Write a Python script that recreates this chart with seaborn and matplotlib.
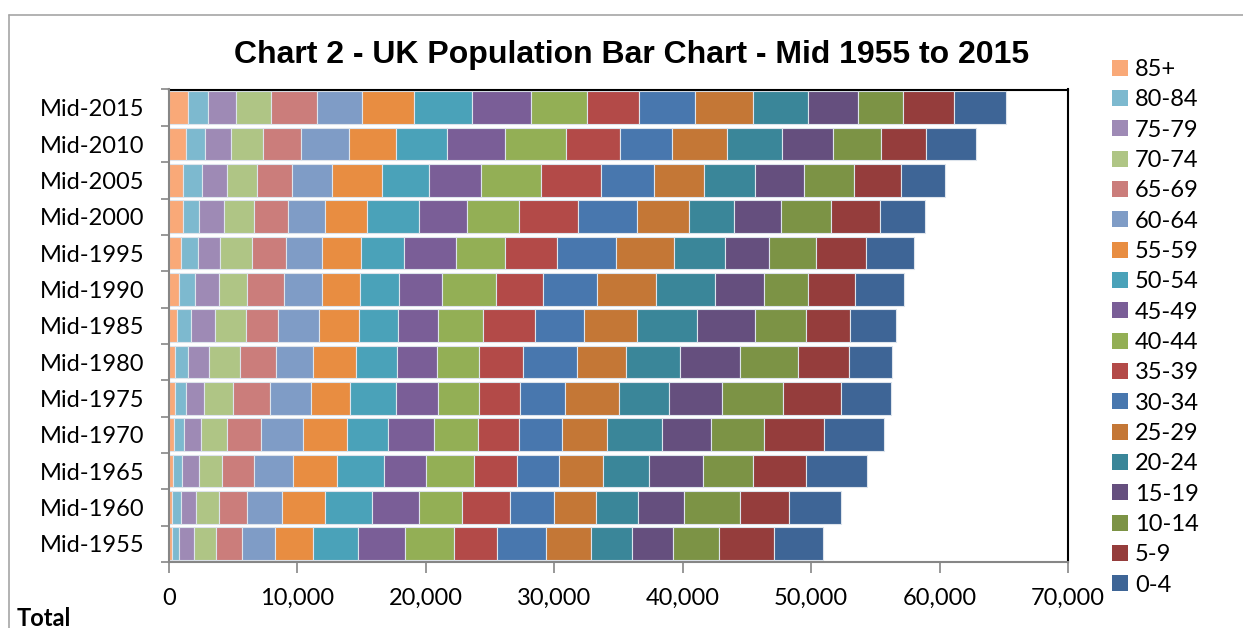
import matplotlib
matplotlib.use("Agg")
import matplotlib.pyplot as plt
from matplotlib.lines import Line2D
from matplotlib.patches import Patch
from matplotlib.ticker import FixedLocator, FuncFormatter
import numpy as np
import pandas as pd
import seaborn as sns

# categories (top bar first) and age bands (left segment first)
years = ['Mid-2015', 'Mid-2010', 'Mid-2005', 'Mid-2000', 'Mid-1995', 'Mid-1990', 'Mid-1985',
         'Mid-1980', 'Mid-1975', 'Mid-1970', 'Mid-1965', 'Mid-1960', 'Mid-1955']
age_groups = ['85+', '80-84', '75-79', '70-74', '65-69', '60-64', '55-59', '50-54', '45-49',
              '40-44', '35-39', '30-34', '25-29', '20-24', '15-19', '10-14', '5-9', '0-4']
age_colors = ['#F9A978', '#7DB9CF', '#9E8AB5', '#AFC585', '#CB7D7B', '#7F9CC6',
              '#E88D41', '#4AA2B9', '#7A5E97', '#93AF55', '#B34A48', '#4877AE',
              '#C47736', '#3A8699', '#654F7E', '#7C9345', '#953D3C', '#3E6596']

# population (thousands) per age band, same order as age_groups
mid_2015 = [1480, 1590, 2130, 2780, 3550, 3510, 4000, 4550, 4600, 4360, 4070, 4370, 4470, 4290, 3860, 3540, 3940, 4050]
mid_2010 = [1300, 1510, 2000, 2490, 2940, 3740, 3660, 3980, 4560, 4730, 4230, 4060, 4280, 4240, 4020, 3690, 3480, 3900]
mid_2005 = [1090, 1480, 1930, 2360, 2700, 3120, 3920, 3660, 4030, 4670, 4640, 4190, 3880, 3920, 3870, 3890, 3610, 3430]
mid_2000 = [1070, 1240, 1950, 2390, 2580, 2930, 3250, 4050, 3740, 4060, 4610, 4600, 4050, 3510, 3640, 3870, 3790, 3560]
mid_1995 = [940, 1350, 1680, 2530, 2620, 2800, 3040, 3350, 4050, 3780, 4090, 4580, 4540, 3980, 3420, 3640, 3850, 3790]
mid_1990 = [780, 1280, 1840, 2210, 2850, 2920, 2960, 3080, 3350, 4160, 3710, 4160, 4650, 4550, 3860, 3430, 3620, 3840]
mid_1985 = [620, 1130, 1810, 2420, 2540, 3170, 3090, 3060, 3120, 3460, 4100, 3790, 4130, 4700, 4520, 3930, 3400, 3580]
mid_1980 = [500, 980, 1610, 2440, 2810, 2860, 3370, 3200, 3110, 3250, 3450, 4210, 3820, 4190, 4670, 4540, 3900, 3410]
mid_1975 = [500, 820, 1410, 2290, 2830, 3190, 3040, 3560, 3270, 3200, 3240, 3510, 4210, 3890, 4130, 4680, 4520, 3950]
mid_1970 = [370, 830, 1320, 1980, 2670, 3250, 3430, 3170, 3630, 3380, 3240, 3310, 3550, 4240, 3840, 4130, 4700, 4600]
mid_1965 = [310, 730, 1300, 1820, 2420, 3040, 3500, 3590, 3290, 3720, 3400, 3270, 3430, 3580, 4210, 3850, 4130, 4780]
mid_1960 = [260, 710, 1170, 1730, 2210, 2730, 3320, 3640, 3690, 3350, 3740, 3430, 3270, 3300, 3580, 4320, 3790, 4120]
mid_1955 = [210, 600, 1140, 1690, 2080, 2520, 2960, 3480, 3710, 3790, 3380, 3790, 3490, 3190, 3240, 3560, 4270, 3860]

sns.set_style('white')
plt.rcParams['font.family'] = ['Lato', 'DejaVu Sans']
plt.rcParams['text.color'] = 'black'

df = pd.DataFrame([mid_2015, mid_2010, mid_2005, mid_2000, mid_1995, mid_1990, mid_1985,
                   mid_1980, mid_1975, mid_1970, mid_1965, mid_1960, mid_1955],
                  index=years, columns=age_groups)
offsets = df.cumsum(axis=1) - df

W, H = 1243, 628
fig = plt.figure(figsize=(W / 100, H / 100), dpi=100)
ax = fig.add_axes([169 / W, 1 - 562 / H, (1068 - 169) / W, (562 - 89.5) / H])

# stacked segments, one seaborn call per age band
for age, colour in zip(age_groups, age_colors):
    sns.barplot(x=df[age].values, y=years, left=offsets[age].values, orient='y',
                color=colour, saturation=1, width=0.9, edgecolor='#dde4ec',
                linewidth=0.8, ax=ax)

ax.set_xlim(0, 70000)
ax.set_ylim(12.5, -0.5)
ax.set_xlabel('')
ax.set_ylabel('')
ax.set_xticks(np.arange(0, 70001, 10000))
ax.xaxis.set_major_formatter(FuncFormatter(lambda v, p: f'{int(v):,}'))
ax.yaxis.set_minor_locator(FixedLocator(np.arange(-0.5, 13, 1)))

grey = '#868686'
ax.tick_params(axis='x', which='major', bottom=True, length=8, width=1.2, color=grey,
               labelcolor='black', labelsize=17, pad=10.5)
ax.tick_params(axis='y', which='major', left=True, length=0, labelcolor='black',
               labelsize=17, pad=18)
ax.tick_params(axis='y', which='minor', left=True, length=6, width=1.2, color=grey)

for side in ['top', 'right']:
    ax.spines[side].set_color('black')
    ax.spines[side].set_linewidth(1.5)
for side in ['left', 'bottom']:
    ax.spines[side].set_color(grey)
    ax.spines[side].set_linewidth(1.5)
    ax.spines[side].set_zorder(5)

fig.text(632 / W, 1 - 55 / H, 'Chart 2 - UK Population Bar Chart - Mid 1955 to 2015',
         ha='center', va='center', fontsize=23, fontweight='bold', family='Liberation Sans',
         color='black')
fig.text(17 / W, 1 - 618 / H, 'Total', ha='left', va='center', fontsize=17,
         fontweight='bold', color='black')

handles = [Patch(facecolor=c, edgecolor='none') for c in age_colors]
fig.legend(handles, age_groups, loc='upper left', bbox_to_anchor=(1112 / W, 1 - 59 / H),
           frameon=False, fontsize=17, handlelength=0.68, handleheight=0.68,
           handletextpad=0.3, labelspacing=0.395, borderpad=0, borderaxespad=0)

# outer chart frame
fig.add_artist(Line2D([9 / W, 9 / W], [0, 1 - 15 / H], color='#a6a6a6', lw=1.2))
fig.add_artist(Line2D([9 / W, 1], [1 - 15 / H, 1 - 15 / H], color='#a6a6a6', lw=1.2))

fig.savefig('out.png', dpi=100)
